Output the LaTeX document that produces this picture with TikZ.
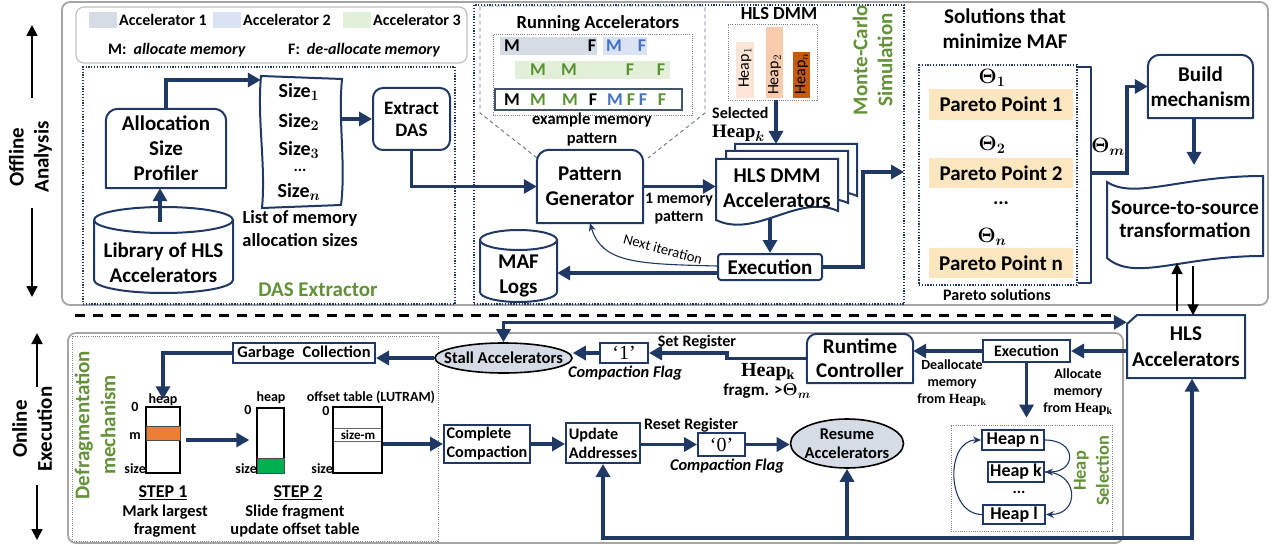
\documentclass[tikz,border=0pt]{standalone}
\usepackage{fontspec}
\setmainfont{Carlito}
\newfontfamily\quotefont{Liberation Serif}
\usepackage{bm}
\usetikzlibrary{arrows.meta,calc,shapes.geometric}

\definecolor{navy}{RGB}{31,56,100}
\definecolor{leafgreen}{RGB}{98,145,56}
\definecolor{accone}{RGB}{214,220,229}
\definecolor{acctwo}{RGB}{218,227,243}
\definecolor{accthree}{RGB}{226,240,217}
\definecolor{mblue}{RGB}{68,114,196}
\definecolor{mgreen}{RGB}{90,145,50}
\definecolor{slate}{RGB}{68,84,106}
\definecolor{heapone}{RGB}{251,229,214}
\definecolor{heaptwo}{RGB}{248,203,173}
\definecolor{heapn}{RGB}{197,90,17}
\definecolor{pareto}{RGB}{251,230,192}
\definecolor{framegray}{RGB}{165,165,165}
\definecolor{bandorange}{RGB}{237,125,49}
\definecolor{bandgreen}{RGB}{0,176,80}
\definecolor{ellfill}{RGB}{214,220,229}

\newcommand\fsz[2]{\fontsize{#1}{#2}\selectfont}
\newcommand\heapk{{\quotefont\bfseries Heap\textsubscript{k}}}

% box with rounded top corners around a named node
\newcommand\topround[2]{%
  \draw[navy, line width=2pt, line join=round]
    (#1.south west) -- ($(#1.north west)+(0,#2)$)
    arc[start angle=180, end angle=270, radius=#2]
    -- ($(#1.north east)+(-#2,0)$)
    arc[start angle=270, end angle=360, radius=#2]
    -- (#1.south east) -- cycle;}

% database drum: x1, y1, x2, y2, ellipse half-height
\newcommand\drum[5]{%
  \pgfmathsetmacro\dcx{(#1+#3)/2}\pgfmathsetmacro\drx{(#3-#1)/2}%
  \draw[navy, line width=2pt, fill=white] (#1,#2+#5) -- (#1,#4-#5)
    arc[start angle=180, end angle=0, x radius=\drx, y radius=#5] -- (#3,#2+#5);
  \draw[navy, line width=2pt] (\dcx,#2+#5) ellipse[x radius=\drx, y radius=#5];}

% document sheet with a wavy lower edge, top-left corner given
\newcommand\docshape[2]{%
  \draw[navy, line width=2pt, fill=white] (#1,#2) -- (#1+122,#2) -- (#1+122,#2+52)
    .. controls (#1+82,#2+34) and (#1+40,#2+80) .. (#1,#2+61) -- cycle;}

\tikzset{
  txt/.style={inner sep=0pt, align=center, font=\fsz{21}{25}\bfseries},
  midtxt/.style={inner sep=0pt, align=center, font=\fsz{16.5}{19}\bfseries},
  legtxt/.style={inner sep=0pt, font=\fsz{16}{19}\bfseries},
  hlbl/.style={inner sep=0pt, font=\fsz{14}{16}\bfseries},
  letter/.style={inner sep=0pt, font=\fsz{18}{20}\bfseries},
  greenlbl/.style={inner sep=0pt, align=center, text=leafgreen, font=\fsz{21}{25}\bfseries},
  navybox/.style={draw=navy, line width=2pt, fill=white, inner sep=0pt, align=center},
  flow/.style={draw=navy, line width=3.5pt, -{Triangle[length=13pt,width=14pt]}},
  flowboth/.style={draw=navy, line width=3.5pt, {Triangle[length=13pt,width=14pt]}-{Triangle[length=13pt,width=14pt]}},
  flowline/.style={draw=navy, line width=3.5pt, line cap=rect},
  thinflow/.style={draw=navy, line width=1.1pt, -{Stealth[length=8pt,width=7pt]}},
  blackarrow/.style={draw=black, line width=1.8pt, -{Triangle[length=11pt,width=11pt]}},
  dotbox/.style={draw=navy, line width=1.4pt, dash pattern=on 1.3pt off 1.5pt, inner sep=0pt},
  graydot/.style={draw=gray, line width=0.7pt, dash pattern=on 1pt off 1.2pt, inner sep=0pt},
  panel/.style={draw=framegray, line width=1.8pt, rounded corners=8pt},
  callout/.style={draw=slate!80, line width=0.9pt, dash pattern=on 4pt off 3pt},
}

\begin{document}
\begin{tikzpicture}[x=1pt, y=-1pt]
\useasboundingbox (0,0) rectangle (1273,548);

% ---------------- panels ----------------
\draw[panel] (62,2) rectangle (1268,305);
\draw[panel] (68,333) rectangle (1123,543);

% ---------------- legend ----------------
\node[draw=framegray!70, line width=1.2pt, rounded corners=8pt, fill=white, minimum width=391, minimum height=56] (legend) at (271.5,35) {};
\node[fill=accone, minimum width=28, minimum height=16] (swone) at (103,20) {};
\node[legtxt, anchor=west] (lgone) at (119,20) {Accelerator 1};
\node[fill=acctwo, minimum width=28, minimum height=16] (swtwo) at (227,20) {};
\node[legtxt, anchor=west] (lgtwo) at (243,20) {Accelerator 2};
\node[fill=accthree, minimum width=28, minimum height=16] (swthree) at (357,20) {};
\node[legtxt, anchor=west] (lgthree) at (373,20) {Accelerator 3};
\node[legtxt, anchor=west] (lgm) at (108,50) {M:\hspace{7pt}\textit{allocate memory}};
\node[legtxt, anchor=west] (lgf) at (288,50) {F:\hspace{7pt}\textit{de-allocate memory}};

% ---------------- DAS extractor ----------------
\node[dotbox, minimum width=372, minimum height=237] (dasbox) at (269,185.5) {};
\node[txt, minimum width=120, minimum height=79] (prof) at (166,148.5) {Allocation\\Size\\Profiler};
\topround{prof}{12}

\drum{94}{207}{233}{293}{13}
\node[txt, minimum width=139, minimum height=56] (lib) at (163.5,263) {Library of HLS\\Accelerators};
\coordinate (libtop) at (160,222);
\draw[flow] (libtop) -- (libtop |- prof.south);

\node[minimum width=81, minimum height=132] (sizes) at (301.5,142) {};
\draw[navy, line width=2pt] (261,76) -- (342,79) .. controls (338,120) and (346,165) .. (341,205)
  -- (262,208) .. controls (266,165) and (257,120) .. (261,76) -- cycle;
\node[txt, font=\fsz{20}{22}\bfseries] (sz1) at (299,92) {Size$_{\bm{1}}$};
\node[txt, font=\fsz{20}{22}\bfseries] (sz2) at (299,122) {Size$_{\bm{2}}$};
\node[txt, font=\fsz{20}{22}\bfseries] (sz3) at (299,150) {Size$_{\bm{3}}$};
\node[txt, font=\fsz{16}{18}\bfseries] (szd) at (300,170) {...};
\node[txt, font=\fsz{20}{22}\bfseries] (szn) at (299,192) {Size$_{\bm{n}}$};
\draw[flow] (prof.north |- 0,109) -- ++(0,-29) -- (sizes.west |- 0,80);
\node[txt, font=\fsz{18.5}{23}\bfseries] (sizeslbl) at (300,229) {List of memory\\allocation sizes};

\node[navybox, rounded corners=10pt, minimum width=77, minimum height=62, font=\fsz{19}{22}\bfseries] (extract) at (411.5,119) {Extract\\DAS};
\draw[flow] (extract.west -| sizes.east) -- (extract.west);

\node[greenlbl] (dastitle) at (318,290) {DAS Extractor};

% ---------------- side labels (offline) ----------------
\node[txt, rotate=90] (offline) at (30.5,157) {Offline\\Analysis};
\coordinate (offa) at (32,98); \coordinate (offb) at (32,25);
\coordinate (offc) at (32,208); \coordinate (offd) at (32,297);
\draw[blackarrow] (offa) -- (offb);
\draw[blackarrow] (offc) -- (offd);

% ---------------- Monte-Carlo simulation ----------------
\node[dotbox, minimum width=430, minimum height=299] (mcbox) at (689,154.5) {};
\draw[callout] (537,158) -- (480,113) -- (480,6) -- (705,6) -- (705,113) -- (648,158);

\node[txt, font=\fsz{18.5}{22}\bfseries] (runtitle) at (598,24) {Running Accelerators};
\node[graydot, minimum width=199, minimum height=81] (runbox) at (592.5,74.5) {};
\node[fill=accone, minimum width=97, minimum height=18] (barone) at (548.5,46) {};
\node[fill=acctwo, minimum width=44, minimum height=18] (bartwo) at (625,46) {};
\node[fill=accthree, minimum width=155, minimum height=18] (barthree) at (592.5,70) {};
\node[draw=slate, line width=1.8pt, minimum width=187, minimum height=21] (patbox) at (588.5,99.5) {};
\foreach \px/\pc/\pl/\pn in {512/black/M/ra, 592/black/F/rb, 614/mblue/M/rc, 642/mblue/F/rd}
  \node[letter, text=\pc] (\pn) at (\px,46) {\pl};
\foreach \px/\pc/\pl/\pn in {538/mgreen/M/ga, 569/mgreen/M/gb, 630/mgreen/F/gc, 661/mgreen/F/gd}
  \node[letter, text=\pc] (\pn) at (\px,70) {\pl};
\foreach \px/\pc/\pl/\pn in {512/black/M/pa, 538/mgreen/M/pb, 570/mgreen/M/pc, 593/black/F/pd,
                            615/mblue/M/pe, 631/mgreen/F/pf, 643/mblue/F/pg2, 662/mgreen/F/ph}
  \node[letter, text=\pc] (\pn) at (\px,99.5) {\pl};
\node[midtxt] (exlbl) at (592,130) {example memory\\pattern};

\node[txt, minimum width=106, minimum height=73] (pg) at (590,186.5) {Pattern\\Generator};
\topround{pg}{12}
\draw[flow] (extract.south) |- (pg.west);

\docshape{735}{144}
\docshape{726}{151}
\docshape{716}{159}
\node[txt, minimum width=122, minimum height=58] (dmm) at (777,188) {HLS DMM\\Accelerators};
\draw[flow] (pg.east) -- (pg.east -| dmm.west);
\node[midtxt, font=\fsz{16}{18}\bfseries] (onepat) at (679,209) {1 memory\\pattern};

\node[txt, font=\fsz{18.5}{22}\bfseries] (dmmtitle) at (779,13) {HLS DMM};
\node[graydot, minimum width=89, minimum height=76] (heapbox) at (772.5,62) {};
\node[fill=heapone, minimum width=18, minimum height=56] (hbarone) at (745,70) {};
\node[fill=heaptwo, minimum width=17, minimum height=71] (hbartwo) at (774.5,62.5) {};
\node[fill=heapn, minimum width=17, minimum height=46] (hbarn) at (801.5,75) {};
\node[inner sep=0pt, rotate=90, font=\fsz{16}{18}] (hlabone) at (745,68) {Heap$_1$};
\node[inner sep=0pt, rotate=90, font=\fsz{16}{18}] (hlabtwo) at (774.5,75) {Heap$_2$};
\node[inner sep=0pt, rotate=90, font=\fsz{16}{18}] (hlabn) at (801.5,74) {Heap$_n$};
\coordinate (dmmtop) at (776,144);
\draw[flow] (heapbox.south -| dmmtop) -- (dmmtop);
\node[inner sep=0pt, anchor=west, font=\fsz{16}{19}\bfseries] (sellbl) at (712,113) {Selected};
\node[inner sep=0pt, anchor=west, font=\fsz{19}{21}] (selheap) at (712,133) {{\quotefont\bfseries Heap}$_{\bm{k}}$};

\node[greenlbl, rotate=90] (mctitle) at (872.5,60) {Monte-Carlo\\Simulation};

\node[navybox, rounded corners=3pt, minimum width=104, minimum height=26, font=\fsz{21}{25}\bfseries] (exec) at (770,267) {Execution};
\coordinate (dmmbot) at (770,218);
\draw[flow] (dmmbot) -- (exec.north);

\drum{480}{230}{557}{302}{10}
\node[txt, minimum width=77, minimum height=56] (maf) at (518.5,275.5) {MAF\\Logs};
\coordinate (execlow) at ($(exec.west)+(0,6)$);
\draw[flow] (execlow) -- (execlow -| maf.east);

\draw[thinflow] ($(exec.west)+(0,-1)$) .. controls +(-80,-2) and +(12,40) .. (pg.south);
\node[inner sep=0pt, rotate=-15, font=\fsz{14.5}{16}] (nextlbl) at (663,249) {Next iteration};

\coordinate (mcout) at (904,172);
\draw[flow] (exec.east) -- ++(40,0) |- (mcout);

% ---------------- Pareto solutions ----------------
\node[txt] (soltitle) at (1005,28.5) {Solutions that\\minimize MAF};
\node[dotbox, minimum width=158, minimum height=220] (parbox) at (998,175) {};
\node[inner sep=0pt, font=\fsz{20}{22}] (thone) at (992,78) {$\bm{\Theta_1}$};
\node[fill=pareto, minimum width=144, minimum height=31, font=\fsz{21}{24}\bfseries] (ppone) at (1001,104.5) {Pareto Point 1};
\node[inner sep=0pt, font=\fsz{20}{22}] (thtwo) at (992,145) {$\bm{\Theta_2}$};
\node[fill=pareto, minimum width=144, minimum height=30, font=\fsz{21}{24}\bfseries] (pptwo) at (1001,173) {Pareto Point 2};
\node[inner sep=0pt, font=\fsz{20}{22}\bfseries] (pdots) at (1001,203) {...};
\node[inner sep=0pt, font=\fsz{20}{22}] (thn) at (992,237) {$\bm{\Theta_n}$};
\node[fill=pareto, minimum width=144, minimum height=30, font=\fsz{21}{24}\bfseries] (ppn) at (1001,263) {Pareto Point n};
\node[midtxt, font=\fsz{16}{19}\bfseries] (parsol) at (997,295) {Pareto solutions};

\draw[navy, line width=2.5pt, line join=round] (1078,67) -- (1091,67) -- (1091,283) -- (1078,283);
\node[txt, minimum width=105, minimum height=63] (build) at (1200.5,86.5) {Build\\mechanism};
\topround{build}{12}
\coordinate (brmid) at (1091,173);
\draw[flow] (brmid) -- ++(36,0) |- (build.west);
\node[inner sep=0pt, font=\fsz{20}{22}] (thm) at (1108,147) {$\bm{\Theta_m}$};

\draw[navy, line width=2pt, fill=white] (1107,182) .. controls (1135,200) and (1180,176) .. (1263,176)
  -- (1263,256) .. controls (1180,256) and (1135,282) .. (1107,258) -- cycle;
\node[txt, font=\fsz{21}{23}\bfseries, minimum width=156, minimum height=80] (s2s) at (1185,219) {Source-to-source\\transformation};
\coordinate (s2stop) at (1194,165);
\draw[flow] (build.south -| s2stop) -- (s2stop);

% ---------------- HLS accelerators ----------------
\draw[navy, line width=2pt, fill=white] (1127,324) -- (1137,315) -- (1245,315) -- (1245,378) -- (1127,378) -- cycle;
\node[txt, font=\fsz{21}{26}\bfseries, minimum width=118, minimum height=63] (hlsacc) at (1186,347) {HLS\\Accelerators};
\draw[blackarrow] ($(hlsacc.north)+(-9,-4)$) -- ($(s2s.south)+(-8,4)$);
\draw[blackarrow] ($(s2s.south)+(8,7)$) -- ($(hlsacc.north)+(7,0)$);

% separator between the two phases
\draw[line width=3pt, dash pattern=on 10pt off 8pt] (75,315) -- (1113,315);

% ---------------- side labels (online) ----------------
\node[txt, rotate=90] (online) at (32,429) {Online\\Execution};
\coordinate (ona) at (37,387); \coordinate (onb) at (37,333);
\coordinate (onc) at (37,485); \coordinate (ond) at (37,540);
\draw[blackarrow] (ona) -- (onb);
\draw[blackarrow] (onc) -- (ond);

% ---------------- defragmentation mechanism ----------------
\node[graydot, minimum width=366, minimum height=205] (defbox) at (255,438.5) {};
\node[greenlbl, rotate=90, font=\fsz{21}{26}\bfseries] (defttl) at (95,425) {Defragmentation\\mechanism};

\node[ellipse, draw=black, line width=1.6pt, fill=ellfill, minimum width=137, minimum height=30, inner sep=0pt] (stall) at (503.5,358) {};
\node[inner sep=0pt, font=\fsz{16.6}{19}\bfseries] (stalltxt) at (stall) {Stall Accelerators};
\coordinate (hlsin) at ($(hlsacc.north west)+(0,7)$);
\draw[flowboth] (stall.north) |- (hlsin);

\node[navybox, minimum width=142, minimum height=20, font=\fsz{16.4}{19}\bfseries] (gc) at (304,353) {Garbage\hspace{0.5em}Collection};
\draw[flow] (stall.west) -- (stall.west -| gc.east);

\node[draw=black, line width=1.4pt, minimum width=34, minimum height=66] (heapa) at (163,440) {};
\node[fill=bandorange, draw=black!70, line width=0.6pt, minimum width=34, minimum height=14] (banda) at (163,433) {};
\draw[flow, shorten >=7pt] (gc.west) -| (heapa.north);
\node[hlbl] (haheap) at (163,400) {heap};
\node[hlbl] (hazero) at (135,407) {0};
\node[hlbl] (ham) at (135,436) {m};
\node[hlbl, anchor=east] (hasize) at (146,469) {size};

\node[draw=black, line width=1.4pt, minimum width=27, minimum height=65] (heapb) at (270.5,440.5) {};
\node[fill=bandgreen, draw=black!70, line width=0.6pt, minimum width=27, minimum height=15] (bandb) at (270.5,465.5) {};
\node[hlbl] (hbheap) at (271,398) {heap};
\node[hlbl] (hbzero) at (248,410) {0};
\node[hlbl, anchor=east] (hbsize) at (257,469) {size};
\draw[flow, shorten <=5pt, shorten >=7pt] (heapa.east) -- (heapa.east -| heapb.west);

\node[draw=black, line width=2.2pt, minimum width=49, minimum height=66] (offtab) at (357.5,440) {};
\draw[black!60, line width=0.8pt] (334,428) -- (381,428);
\draw[black!60, line width=0.8pt] (334,441) -- (381,441);
\node[hlbl, font=\fsz{13}{15}\bfseries] (sizem) at (358,434.5) {size-m};
\node[hlbl] (offttl) at (371,397) {offset table (LUTRAM)};
\node[hlbl] (oczero) at (326,411) {0};
\node[hlbl, anchor=east] (ocsize) at (333,469) {size};

\node[hlbl, font=\fsz{18}{20}\bfseries] (stepone) at (163,493) {\underline{STEP 1}};
\node[midtxt, font=\fsz{16.4}{18}\bfseries] (steponetxt) at (165,521) {Mark largest\\fragment};
\node[hlbl, font=\fsz{18}{20}\bfseries] (steptwo) at (298,493) {\underline{STEP 2}};
\node[midtxt, font=\fsz{16.4}{18}\bfseries] (steptwotxt) at (295,521) {Slide fragment\\update offset table};

% ---------------- compaction flow ----------------
\node[navybox, align=left, minimum width=86, minimum height=38, font=\fsz{16.2}{19}\bfseries] (cc) at (487,444) {Complete\\Compaction};
\draw[flow] (cc.west -| offtab.east) -- (cc.west);
\node[navybox, align=left, minimum width=74, minimum height=40, font=\fsz{16.2}{19}\bfseries] (ua) at (603,443) {Update\\Addresses};
\draw[flow] (cc.east) -- (cc.east -| ua.west);
\node[navybox, minimum width=47, minimum height=23, font=\quotefont\fsz{20}{22}] (zero) at (721.5,444.5) {‘0’};
\draw[flow] (ua.east |- zero.west) -- (zero.west);
\node[midtxt, font=\fsz{16}{19}\bfseries] (resetlbl) at (691,425) {Reset Register};
\node[midtxt, font=\fsz{16.4}{19}\bfseries\itshape] (cflagzero) at (727,466) {Compaction Flag};
\node[ellipse, draw=black, line width=1.6pt, fill=ellfill, minimum width=113, minimum height=49, inner sep=0pt] (resume) at (847,443.5) {};
\node[midtxt] (resumetxt) at (resume) {Resume\\Accelerators};
\draw[flow] (zero.east) -- (zero.east -| resume.west);

\coordinate (busL) at (603,538);
\coordinate (busR) at (1192,538);
\draw[flowline] (busL) -- (busR);
\draw[flow] (busL) -- (ua.south);
\draw[flow] (busL -| resume.south) -- (resume.south);
\draw[flow] (busR) -- (busR |- hlsacc.south);

% ---------------- runtime controller ----------------
\node[txt, font=\fsz{21}{24}\bfseries, minimum width=106, minimum height=49] (rtc) at (860,358.5) {Runtime\\Controller};
\topround{rtc}{10}
\node[navybox, minimum width=48, minimum height=20, font=\quotefont\fsz{20}{22}] (one) at (624,353) {‘1’};
\draw[flow] (rtc.west) -- ++(-80,0) |- (one.east);
\draw[flow] (one.west) -- (one.west -| stall.east);
\node[midtxt, font=\fsz{16}{19}\bfseries] (setlbl) at (697,342) {Set Register};
\node[midtxt, font=\fsz{16.4}{19}\bfseries\itshape] (cflagone) at (625,373) {Compaction Flag};
\node[inner sep=0pt, font=\fsz{20}{21}] (fragk) at (768,372) {\heapk};
\node[inner sep=0pt, font=\fsz{17}{19}\bfseries] (fragm) at (767,391) {fragm. >$\bm{\Theta}_{\bm{m}}$};

\node[navybox, minimum width=87, minimum height=22, font=\fsz{16}{19}\bfseries] (exetwo) at (1026.5,351) {Execution};
\draw[flow] (hlsacc.west |- exetwo.east) -- (exetwo.east);
\draw[flow] (exetwo.west) -- (exetwo.west -| rtc.east);
\node[inner sep=0pt, align=center, font=\fsz{14}{17}\bfseries] (dealloc) at (952,383) {Deallocate\\memory\\from \heapk};
\node[inner sep=0pt, align=center, font=\fsz{14}{17}\bfseries] (alloc) at (1078,392) {Allocate\\memory\\from \heapk};

% ---------------- heap selection ----------------
\node[graydot, minimum width=161, minimum height=106] (hsbox) at (1031.5,478) {};
\draw[flow, shorten >=7pt] (exetwo.south) -- (exetwo.south |- hsbox.north);
\node[navybox, minimum width=62, minimum height=20, font=\fsz{18}{20}\bfseries] (hn) at (1013,440) {Heap n};
\node[navybox, minimum width=56, minimum height=20, font=\fsz{18}{20}\bfseries] (hk) at (1016,472) {Heap k};
\node[inner sep=0pt, font=\fsz{16}{18}\bfseries] (hdots) at (1019,492) {...};
\node[navybox, minimum width=62, minimum height=19, font=\fsz{18}{20}\bfseries] (hl) at (1014,514.5) {Heap l};
\draw[thinflow] (hn.east) .. controls +(32,0) and +(32,0) .. (hk.east);
\draw[thinflow] (hk.east) .. controls +(34,0) and +(34,0) .. (hl.east);
\draw[thinflow] (hl.west) .. controls +(-36,0) and +(-36,0) .. (hn.west);
\node[greenlbl, rotate=90, font=\fsz{18.4}{23}\bfseries] (hsttl) at (1091.5,471) {Heap\\Selection};

\end{tikzpicture}
\end{document}
